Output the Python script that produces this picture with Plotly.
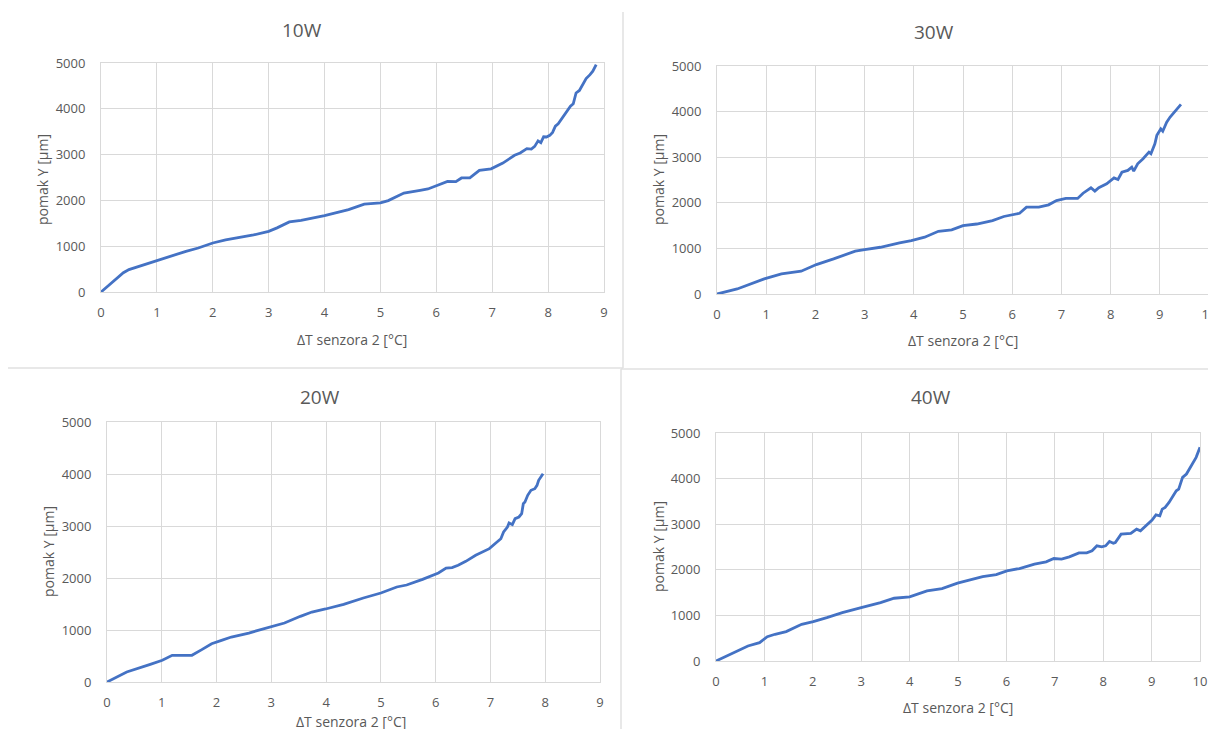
import plotly.graph_objects as go

# 10W
X_10W = [0, 0.4, 0.5, 1.0, 1.31, 1.52, 1.74, 2.0, 2.23, 2.52, 2.73, 3.0, 3.15, 3.37, 3.58,
         4.0, 4.43, 4.71, 5.0, 5.14, 5.42, 5.71, 5.85, 6.0, 6.2, 6.35, 6.45, 6.6, 6.77,
         6.98, 7.19, 7.4, 7.5, 7.62, 7.7, 7.76, 7.82, 7.87, 7.92, 7.97, 8.03, 8.08, 8.13,
         8.18, 8.24, 8.29, 8.34, 8.4, 8.45, 8.5, 8.56, 8.61, 8.68, 8.75, 8.8, 8.86]
Y_10W = [0, 420, 490, 690, 815, 888, 960, 1070, 1140, 1200, 1245, 1325, 1400, 1530, 1565,
         1667, 1800, 1920, 1945, 1995, 2160, 2220, 2250, 2320, 2415, 2410, 2490, 2490, 2655,
         2690, 2815, 2985, 3035, 3130, 3120, 3180, 3300, 3260, 3390, 3385, 3420, 3485, 3620,
         3675, 3780, 3870, 3950, 4055, 4110, 4345, 4400, 4505, 4660, 4745, 4820, 4965]

# 30W
X_30W = [0, 0.41, 0.96, 1.31, 1.71, 2.02, 2.37, 2.81, 3.0, 3.32, 3.71, 3.95, 4.22, 4.5,
         4.77, 5.0, 5.28, 5.6, 5.83, 5.99, 6.15, 6.29, 6.54, 6.74, 6.9, 7.09, 7.33, 7.44,
         7.6, 7.68, 7.76, 7.92, 8.07, 8.15, 8.23, 8.35, 8.43, 8.47, 8.55, 8.66, 8.78,
         8.82, 8.9, 8.94, 9.02, 9.06, 9.14, 9.21, 9.33, 9.43]
Y_30W = [0, 110, 330, 440, 500, 645, 770, 940, 975, 1025, 1120, 1170, 1245, 1375,
         1405, 1500, 1535, 1610, 1700, 1740, 1770, 1905, 1905, 1955, 2050, 2095, 2095, 2210,
         2330, 2255, 2330, 2415, 2545, 2510, 2670, 2710, 2780, 2695, 2855, 2965, 3110,
         3075, 3295, 3480, 3620, 3570, 3770, 3880, 4025, 4160]

# 20W
X_20W = [0, 0.36, 0.79, 1.01, 1.19, 1.55, 1.73, 1.91, 2.09, 2.27, 2.59, 2.99, 3.24, 3.53,
         3.74, 3.99, 4.32, 4.68, 5.0, 5.29, 5.47, 5.76, 5.98, 6.05, 6.19, 6.3, 6.41, 6.55,
         6.73, 6.98, 7.12, 7.19, 7.24, 7.31, 7.34, 7.4, 7.45, 7.52, 7.57, 7.6, 7.63, 7.68,
         7.74, 7.81, 7.85, 7.88, 7.96]
Y_20W = [0, 192, 340, 417, 513, 513, 622, 737, 801, 865, 942, 1058, 1135, 1263,
         1346, 1404, 1494, 1615, 1712, 1827, 1865, 1974, 2064, 2096, 2192, 2199, 2244, 2320,
         2436, 2564, 2692, 2756, 2885, 2981, 3058, 3026, 3141, 3173, 3237, 3429, 3462, 3590,
         3686, 3718, 3782, 3878, 4006]

# 40W
X_40W = [0, 0.38, 0.66, 0.9, 1.06, 1.22, 1.45, 1.77, 2.01, 2.29, 2.61, 3.0, 3.4, 3.68,
         4.0, 4.36, 4.67, 4.99, 5.27, 5.51, 5.79, 6.01, 6.27, 6.58, 6.82, 6.98, 7.14, 7.3,
         7.5, 7.66, 7.77, 7.87, 7.97, 8.05, 8.13, 8.21, 8.25, 8.37, 8.57, 8.69, 8.77, 8.93,
         9.01, 9.09, 9.17, 9.22, 9.28, 9.36, 9.44, 9.51, 9.56, 9.6, 9.64, 9.72, 9.84, 9.92, 10.0]
Y_40W = [0, 183, 329, 403, 534, 586, 644, 805, 864, 952, 1061, 1171, 1281, 1376,
         1406, 1537, 1589, 1706, 1779, 1852, 1896, 1977, 2028, 2123, 2174, 2247, 2233, 2284,
         2372, 2372, 2416, 2526, 2504, 2526, 2621, 2584, 2599, 2782, 2797, 2892, 2855, 3002,
         3089, 3206, 3184, 3331, 3368, 3477, 3624, 3734, 3770, 3880, 4026, 4100, 4319, 4466, 4685]

TITLES = ["10W", "30W", "20W", "40W"]
X_TITLE = "ΔT senzora 2 [°C]"
Y_TITLE = "pomak Y [µm]"

W, H = 1216, 729
OFF = 8  # page body margin pushes the figure 8px right and down
FONT = "Open Sans"
TXT = "#595959"
GRID = "#d9d9d9"
LINE = "#4472C4"


def px(x):
    return (x - OFF) / W


def py(y):
    return 1 - (y - OFF) / H


# screen-pixel boxes of each plot area: left, right, top, bottom
panels = [
    dict(x=X_10W, y=Y_10W, box=(101, 604, 63, 292), xmax=9,
         title=(302, 30), xt=(352, 339), yt=(42, 180)),
    dict(x=X_30W, y=Y_30W, box=(717, 1209, 66, 294), xmax=10,
         title=(934, 32), xt=(963, 340), yt=(658, 180)),
    dict(x=X_20W, y=Y_20W, box=(107, 600, 422, 682), xmax=9,
         title=(320, 397), xt=(351, 721), yt=(48, 552)),
    dict(x=X_40W, y=Y_40W, box=(716, 1200, 433, 661), xmax=10,
         title=(931, 397), xt=(958, 707), yt=(658, 547)),
]


def label(text, pos, size, angle=0):
    return dict(text=text, x=px(pos[0]), y=py(pos[1]), xref="paper", yref="paper",
                xanchor="center", yanchor="middle", showarrow=False, textangle=angle,
                font=dict(family=FONT, size=size, color=TXT))


fig = go.Figure()
annotations = []
for i, (p, name) in enumerate(zip(panels, TITLES), start=1):
    sfx = "" if i == 1 else str(i)
    l, r, t, b = p["box"]
    fig.add_scatter(x=p["x"], y=p["y"], mode="lines", name=name,
                    xaxis="x" + sfx, yaxis="y" + sfx,
                    line=dict(color=LINE, width=2.8), showlegend=False)
    fig.layout["xaxis" + sfx] = dict(
        domain=[px(l), px(r)], anchor="y" + sfx, range=[0, p["xmax"]], dtick=1,
        showgrid=True, gridcolor=GRID, zeroline=False, showline=True, linecolor=GRID,
        mirror=True, ticks="", ticklabelstandoff=8, automargin=False,
        tickfont=dict(family=FONT, size=13, color=TXT))
    fig.layout["yaxis" + sfx] = dict(
        domain=[py(b), py(t)], anchor="x" + sfx, range=[0, 5000], dtick=1000,
        showgrid=True, gridcolor=GRID, zeroline=False, showline=True, linecolor=GRID,
        mirror=True, ticks="", ticklabelstandoff=12, automargin=False,
        tickfont=dict(family=FONT, size=13, color=TXT))
    annotations.append(label(name, p["title"], 19))
    annotations.append(label(X_TITLE, p["xt"], 14))
    annotations.append(label(Y_TITLE, p["yt"], 14, -90))

# panel separators
sep = dict(type="line", xref="paper", yref="paper", line=dict(color="#e0e0e0", width=1.5))
shapes = [
    dict(sep, x0=px(623), x1=px(623), y0=py(12), y1=py(368)),
    dict(sep, x0=px(8), x1=px(623), y0=py(368), y1=py(368)),
    dict(sep, x0=px(621), x1=1, y0=py(369), y1=py(369)),
    dict(sep, x0=px(621), x1=px(621), y0=py(369), y1=0),
]

fig.update_layout(
    width=W, height=H, margin=dict(l=0, r=0, t=0, b=0, autoexpand=False),
    paper_bgcolor="white", plot_bgcolor="white",
    annotations=annotations, shapes=shapes,
)
fig.write_html("out.html")
